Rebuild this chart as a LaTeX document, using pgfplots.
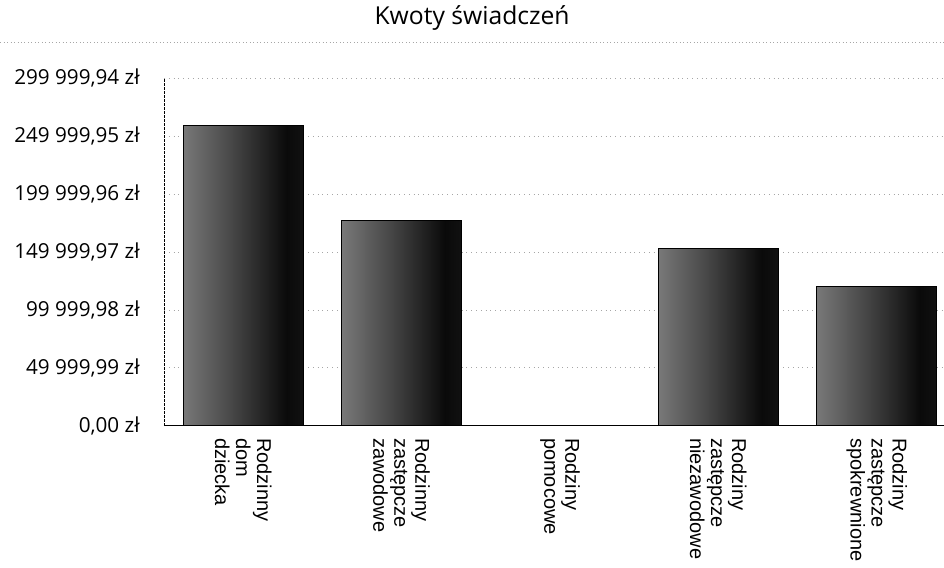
\documentclass[border=0pt]{standalone}
\usepackage{fontspec}
\setmainfont{Open Sans}
\newfontfamily\xlfont{Liberation Sans}
\usepackage{pgfplots}
\pgfplotsset{compat=1.18}
\pgfdeclarehorizontalshading{barshade}{100bp}{color(0bp)=(black!42); color(20bp)=(black!48); color(45bp)=(black!72); color(68bp)=(black!96); color(100bp)=(black!84)}
\pgfplotsset{mybar/.style={ybar, bar width=0.757, bar shift=0pt, draw=black, line width=0.4pt, shade, shading=barshade}}
\begin{document}
\begin{tikzpicture}
\useasboundingbox (-123pt,-106pt) rectangle (585pt,319.3pt);
\begin{axis}[
  at={(0,0)}, anchor=south west,
  scale only axis,
  width=585pt, height=260.7pt,
  xmin=-0.5, xmax=4.425,
  ymin=0, ymax=299999.94,
  scaled y ticks=false,
  axis x line*=bottom, axis y line*=left,
  x axis line style={-, line width=0.9pt},
  y axis line style={-, line width=0.5pt, dash pattern=on 2pt off 1pt},
  major tick length=0pt,
  xtick={0,1,2,3,4},
  xticklabels={{Rodzinny\\dom\\dziecka},{Rodzinny\\zastępcze\\zawodowe},{Rodziny\\pomocowe},{Rodziny\\zastępcze\\niezawodowe},{Rodziny\\zastępcze\\spokrewnione}},
  xticklabel style={rotate=-90, anchor=west, align=left, inner sep=0pt, font=\xlfont\fontsize{15}{15.75}\selectfont},
  xticklabel shift=9pt,
  ytick={0,49999.99,99999.98,149999.97,199999.96,249999.95,299999.94},
  yticklabels={{0,00 zł},{49 999,99 zł},{99 999,98 zł},{149 999,97 zł},{199 999,96 zł},{249 999,95 zł},{299 999,94 zł}},
  yticklabel style={inner sep=0pt, font=\fontsize{15.5}{18}\selectfont},
  yticklabel shift=18pt,
  ymajorgrids,
  major grid style={gray!70, line width=0.5pt, dash pattern=on 0.6pt off 3pt},
  clip=false,
]
\addplot[mybar] coordinates {(0,259500)};
\addplot[mybar] coordinates {(1,177000)};
\addplot[mybar, draw=none] coordinates {(2,0)};
\addplot[mybar] coordinates {(3,153100)};
\addplot[mybar] coordinates {(4,120000)};
\draw[gray!70, line width=0.5pt, dash pattern=on 0.6pt off 2pt] (axis description cs:-0.21,1.104) -- (axis description cs:1,1.104);
\node[font=\fontsize{18.5}{21}\selectfont, anchor=center] at (axis description cs:0.395,1.173) {Kwoty świadczeń};
\end{axis}
\end{tikzpicture}
\end{document}
